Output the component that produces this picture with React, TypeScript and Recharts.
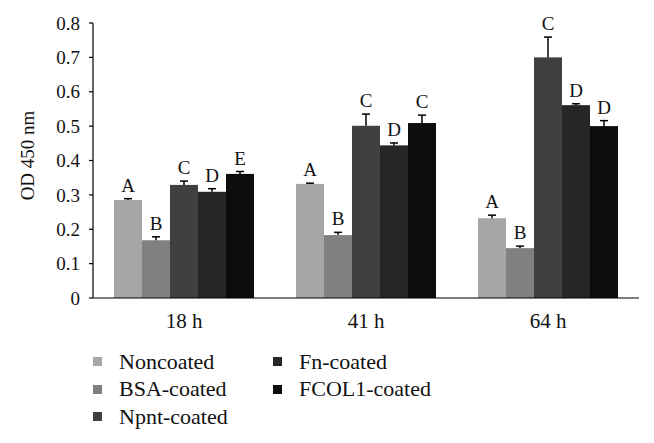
import { BarChart, Bar, XAxis, YAxis, LabelList } from "recharts";

const categories = ["18 h", "41 h", "64 h"];
const seriesNames = ["Noncoated", "BSA-coated", "Npnt-coated", "Fn-coated", "FCOL1-coated"];

const noncoated = [0.285, 0.332, 0.232];
const bsa = [0.168, 0.183, 0.145];
const npnt = [0.329, 0.501, 0.7];
const fn = [0.309, 0.444, 0.561];
const fcol1 = [0.361, 0.509, 0.5];

// upper error only
const noncoatedErr = [0.004, 0.002, 0.009];
const bsaErr = [0.01, 0.008, 0.006];
const npntErr = [0.011, 0.034, 0.059];
const fnErr = [0.009, 0.007, 0.004];
const fcol1Err = [0.007, 0.023, 0.016];

const noncoatedLetters = ["A", "A", "A"];
const bsaLetters = ["B", "B", "B"];
const npntLetters = ["C", "C", "C"];
const fnLetters = ["D", "D", "D"];
const fcol1Letters = ["E", "C", "D"];

const yTicks = [0, 0.1, 0.2, 0.3, 0.4, 0.5, 0.6, 0.7, 0.8];
const boundaryTicks = [0, 1, 2, 3];

const COLORS = ["#a6a6a6", "#808080", "#404040", "#262626", "#0d0d0d"];
const FONT = "'Liberation Serif', 'DejaVu Serif', serif";
const INK = "#111";

const series = [
  { key: "s0", vals: noncoated, errs: noncoatedErr, letters: noncoatedLetters },
  { key: "s1", vals: bsa, errs: bsaErr, letters: bsaLetters },
  { key: "s2", vals: npnt, errs: npntErr, letters: npntLetters },
  { key: "s3", vals: fn, errs: fnErr, letters: fnLetters },
  { key: "s4", vals: fcol1, errs: fcol1Err, letters: fcol1Letters },
];

const data = categories.map((name, i) => {
  const row: Record<string, unknown> = { name };
  series.forEach((s) => {
    row[s.key] = s.vals[i];
    row[s.key + "L"] = s.letters[i];
  });
  return row;
});

// bar + upward error whisker, sized from the bar's own pixel scale
function barWithError(vals: number[], errs: number[], color: string) {
  return (props: any) => {
    const { x, y, width, height, index } = props;
    const h = Math.abs(height);
    const top = Math.min(y, y + height);
    const errPx = vals[index] ? (errs[index] * h) / vals[index] : 0;
    const cx = x + width / 2;
    return (
      <g>
        <rect x={x} y={top} width={width} height={h} fill={color} />
        <line x1={cx} x2={cx} y1={top} y2={top - errPx} stroke="#000" strokeWidth={1.5} />
        <line x1={cx - 4} x2={cx + 4} y1={top - errPx} y2={top - errPx} stroke="#000" strokeWidth={1.5} />
      </g>
    );
  };
}

function letterContent(vals: number[], errs: number[]) {
  return (props: any) => {
    const vb = props.viewBox || props;
    const i = props.index;
    const h = Math.abs(vb.height);
    const top = Math.min(vb.y, vb.y + vb.height);
    const errPx = (errs[i] * h) / vals[i];
    return (
      <text
        x={vb.x + vb.width / 2}
        y={top - errPx - 7}
        textAnchor="middle"
        fontFamily={FONT}
        fontSize={19}
        fill={INK}
      >
        {props.value}
      </text>
    );
  };
}

function YLabel(props: any) {
  const vb = props.viewBox;
  const cx = vb.x + 27;
  const cy = vb.y + vb.height / 2 - 5;
  return (
    <text
      x={cx}
      y={cy}
      transform={`rotate(-90 ${cx} ${cy})`}
      textAnchor="middle"
      dominantBaseline="central"
      fontFamily={FONT}
      fontSize={19}
      fill={INK}
    >
      OD 450 nm
    </text>
  );
}

export default function App() {
  return (
    <div style={{ position: "absolute", left: 0, top: 0, width: 654, height: 443, background: "#fff" }}>
      <BarChart
        width={654}
        height={443}
        data={data}
        margin={{ top: 23, right: 15, left: 0, bottom: 115 }}
        barCategoryGap={21}
        barGap={0}
      >
        <XAxis
          xAxisId={0}
          type="number"
          domain={[0, 3]}
          ticks={boundaryTicks}
          tick={false}
          axisLine={false}
          tickLine={{ stroke: "#000", strokeWidth: 1.2 }}
          tickSize={4}
          height={0}
          allowDataOverflow
        />
        <XAxis
          xAxisId="cat"
          dataKey="name"
          height={30}
          tickLine={false}
          tickSize={0}
          tickMargin={15}
          axisLine={{ stroke: "#000", strokeWidth: 1.2 }}
          tick={{ fill: INK, fontSize: 21, fontFamily: FONT }}
        />
        <YAxis
          width={93}
          domain={[0, 0.8]}
          ticks={yTicks}
          interval={0}
          tickFormatter={(v: number) => (v === 0 ? "0" : v.toFixed(1))}
          tickSize={4}
          tickMargin={9}
          axisLine={{ stroke: "#000", strokeWidth: 1.2 }}
          tickLine={{ stroke: "#000", strokeWidth: 1.2 }}
          tick={{ fill: INK, fontSize: 19, fontFamily: FONT }}
          label={<YLabel />}
        />
        {series.map((s, idx) => (
          <Bar
            key={s.key}
            xAxisId="cat"
            dataKey={s.key}
            name={seriesNames[idx]}
            fill={COLORS[idx]}
            shape={barWithError(s.vals, s.errs, COLORS[idx])}
            isAnimationActive={false}
          >
            <LabelList dataKey={s.key + "L"} content={letterContent(s.vals, s.errs)} />
          </Bar>
        ))}
      </BarChart>
      <div
        style={{
          position: "absolute",
          left: 93,
          top: 348,
          display: "grid",
          gridTemplateRows: "repeat(3, 27.5px)",
          gridTemplateColumns: "180px 200px",
          gridAutoFlow: "column",
          fontFamily: FONT,
          fontSize: 22,
          color: INK,
        }}
      >
        {seriesNames.map((n, idx) => (
          <div key={n} style={{ display: "flex", alignItems: "center", whiteSpace: "nowrap" }}>
            <span style={{ width: 9, height: 9, background: COLORS[idx], marginRight: 17, flex: "none" }} />
            <span>{n}</span>
          </div>
        ))}
      </div>
    </div>
  );
}
